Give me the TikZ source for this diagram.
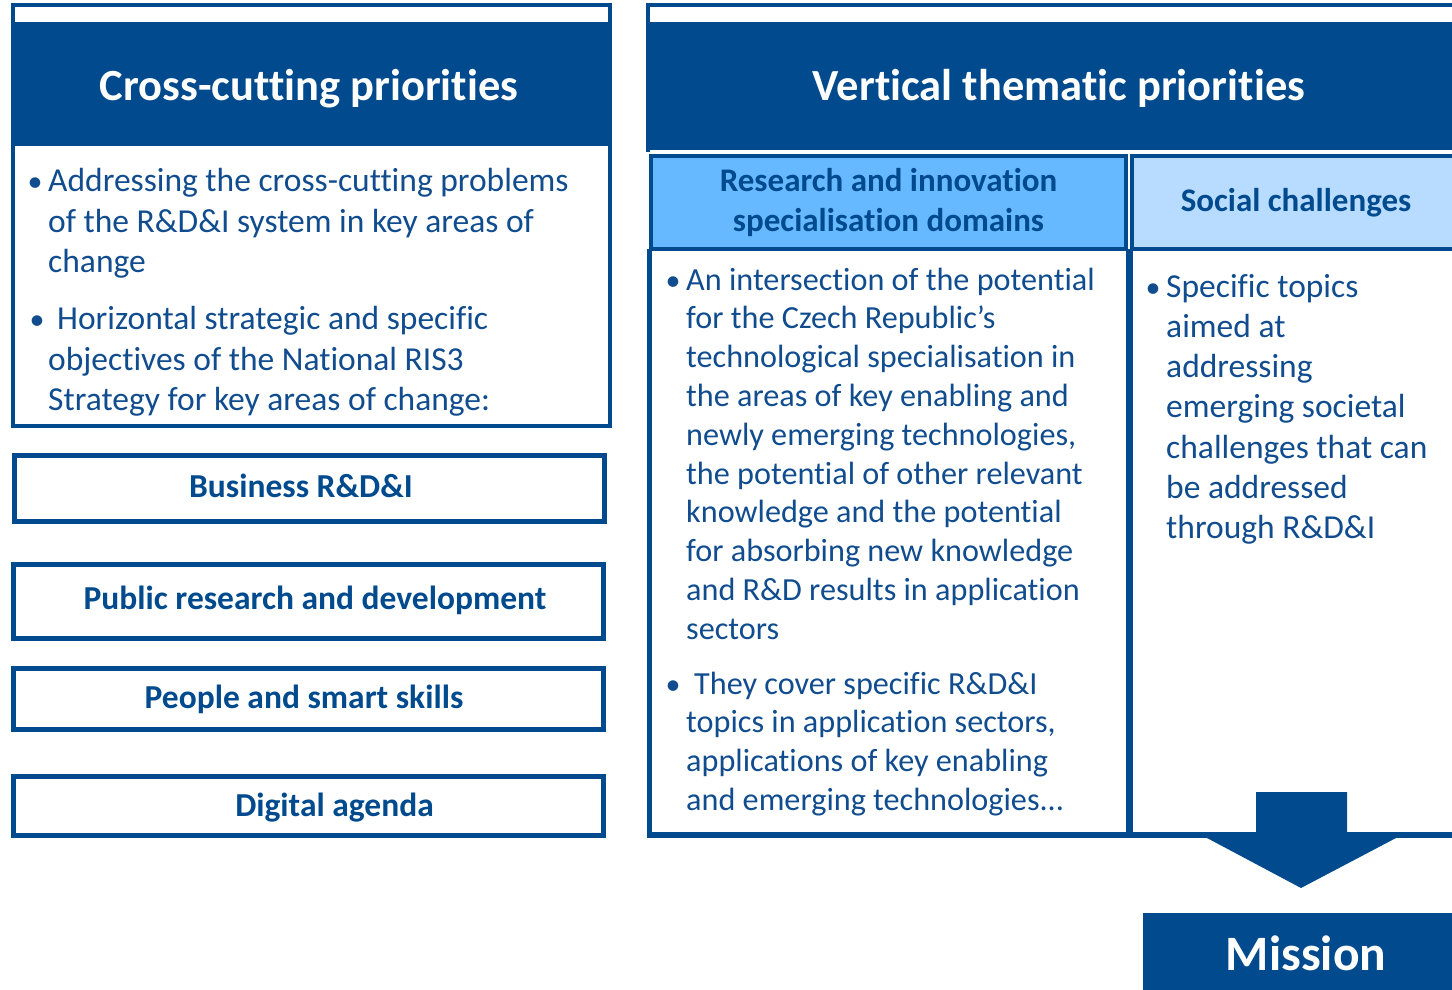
\documentclass[tikz,border=0pt]{standalone}
\usepackage{fontspec}
\setmainfont{Carlito}[Ligatures=NoCommon]
\definecolor{dblue}{RGB}{0,74,141}
\definecolor{tblue}{RGB}{16,76,142}
\definecolor{midblue}{RGB}{102,184,255}
\definecolor{paleblue}{RGB}{184,220,255}
\newcommand{\normspace}{\spaceskip=0pt\relax\xspaceskip=0pt\relax}
\begin{document}
\begin{tikzpicture}[x=1pt,y=-1pt,
  frame/.style={draw=dblue,line width=3.5pt},
  box/.style={draw=dblue,line width=5pt},
  cell/.style={draw=dblue,line width=4pt},
  rule/.style={draw=dblue,line width=5.5pt},
  hdr/.style={inner sep=0pt,text=white,anchor=base,font=\bfseries\fontsize{44.5}{50}\selectfont},
  sub/.style={inner sep=0pt,text=dblue,anchor=base,font=\bfseries\fontsize{33}{40}\selectfont},
  boxtxt/.style={inner sep=0pt,text=dblue,anchor=base,font=\bfseries\fontsize{33.5}{40}\selectfont},
  bodyL/.style={inner sep=0pt,text=tblue,anchor=base west,align=left,text width=560pt,font=\fontsize{33.5}{40.6}\selectfont},
  bodyM/.style={inner sep=0pt,text=tblue,anchor=base west,align=left,text width=430pt,font=\fontsize{32.2}{38.8}\selectfont},
  bodyR/.style={inner sep=0pt,text=tblue,anchor=base west,align=left,text width=300pt,font=\fontsize{33.5}{40.3}\selectfont},
  bul/.style={inner sep=0pt,text=tblue,anchor=base,font=\fontsize{30}{36}\selectfont}]
\useasboundingbox (0,0) rectangle (1452,990);

% ---------- left panel ----------
\fill[dblue] (13,22) rectangle (610,146);
\draw[frame] (13,5) rectangle (610,426);
\node[hdr] (lhead) at (309,100) {Cross-cutting priorities};
\node[bul] (lb1) at (35,191.5) {•};
\node[bodyL] (lt1) at (48,191.5) {\normspace Addressing the cross-cutting problems\\of the R\&D\&I system in key areas of\\change};
\node[bul] (lb2) at (37,329.5) {•};
\node[bodyL] (lt2) at (48,329.5) {\normspace\hspace*{9pt}Horizontal strategic and specific\\objectives of the National RIS3\\Strategy for key areas of change:};

\draw[box] (14.5,455.5) rectangle (604.5,521.5);
\node[boxtxt] (b1) at (301,497.5) {Business R\&D\&I};
\draw[box] (13.5,564.5) rectangle (603.5,638.5);
\node[boxtxt] (b2) at (315,609.5) {Public research and development};
\draw[box] (13.5,668.5) rectangle (603.5,729.5);
\node[boxtxt] (b3) at (304,708) {People and smart skills};
\draw[box] (13.5,776.5) rectangle (603.5,835.5);
\node[boxtxt] (b4) at (334.5,816.5) {Digital agenda};

% ---------- right panel ----------
\fill[dblue] (648,22) rectangle (1460,150);
\draw[frame] (1460,5) -- (648,5) -- (648,152);
\node[hdr] (rhead) at (1059,100) {Vertical thematic priorities};
\filldraw[fill=midblue,cell] (651,156) rectangle (1126,249);
\filldraw[fill=paleblue,cell] (1132,156) rectangle (1460,249);
\node[sub] (s1a) at (888.5,191) {Research and innovation};
\node[sub] (s1b) at (888.5,231) {specialisation domains};
\node[sub] (s2) at (1296,211) {Social challenges};
\draw[rule] (649.5,249) -- (649.5,837.5);
\draw[dblue,line width=7pt] (1129,249) -- (1129,835);
\draw[rule] (646.5,835) -- (1460,835);

\node[bul] (mb1) at (673,290) {•};
\node[bodyM] (mt1) at (686,290) {\normspace An intersection of the potential\\for the Czech Republic’s\\technological specialisation in\\the areas of key enabling and\\newly emerging technologies,\\the potential of other relevant\\knowledge and the potential\\for absorbing new knowledge\\and R\&D results in application\\sectors};
\node[bul] (mb2) at (673,694) {•};
\node[bodyM] (mt2) at (686,694) {\normspace\hspace*{8pt}They cover specific R\&D\&I\\topics in application sectors,\\applications of key enabling\\and emerging technologies...};

\node[bul] (rb1) at (1153,297) {•};
\node[bodyR] (rt1) at (1166,297) {\normspace Specific topics\\aimed at\\addressing\\emerging societal\\challenges that can\\be addressed\\through R\&D\&I};

% ---------- arrow and mission ----------
\fill[dblue] (1256,792) -- (1347,792) -- (1347,838) -- (1396,838) -- (1301,888) -- (1207,838) -- (1256,838) -- cycle;
\fill[dblue] (1143,913) rectangle (1460,995);
\node[hdr,font=\bfseries\fontsize{49.5}{55}\selectfont] (mission) at (1306,970) {Mission};
\end{tikzpicture}
\end{document}
